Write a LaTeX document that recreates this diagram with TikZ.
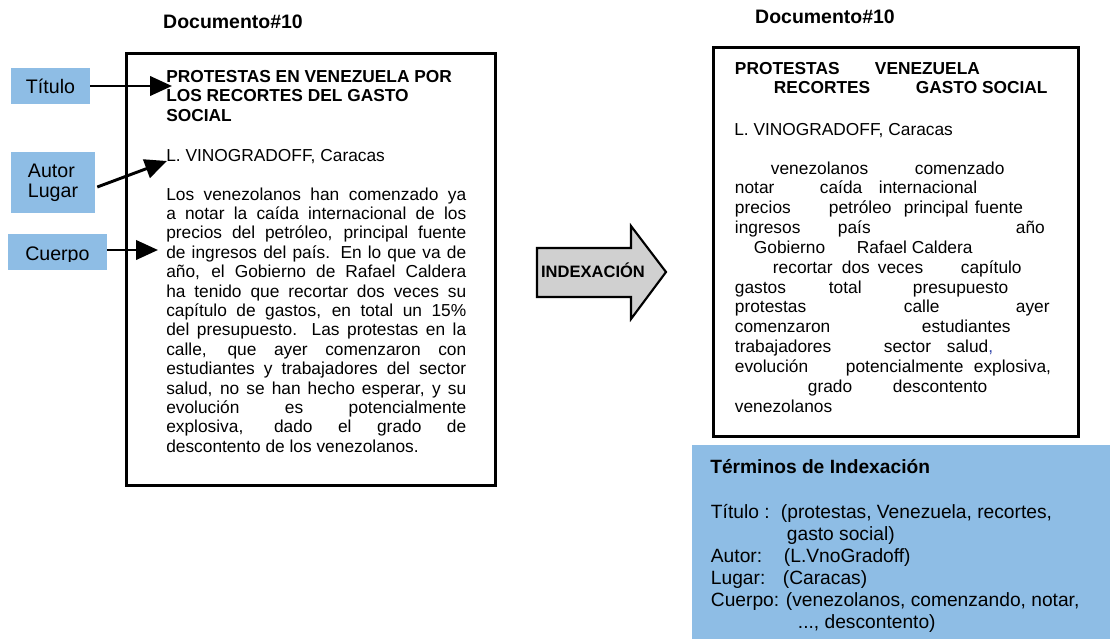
\documentclass[tikz,border=0pt]{standalone}
\usepackage{fontspec}
\setmainfont{Liberation Sans}
\usetikzlibrary{arrows.meta,calc}
\definecolor{lblue}{RGB}{142,189,229}
\definecolor{agray}{RGB}{208,208,208}
\definecolor{cblue}{RGB}{50,70,170}
\newlength\pxu \setlength\pxu{0.75pt}
\newcommand\W[2]{\rlap{\hspace*{#1\pxu}#2}}
\newcommand\JL[1]{\hbox to 225pt{\spaceskip=.278em plus 1fil minus .1em\relax #1}}
\begin{document}
\begin{tikzpicture}[x=0.75pt,y=-0.75pt,
  lbl/.style={fill=lblue, inner sep=0, font=\fontsize{14.7}{15}\selectfont},
  conn/.style={line width=2.2pt, -{Triangle[length=16.5pt,width=14.5pt]}},
  doc/.style={draw, line width=1.9pt, inner sep=0, anchor=north west},
  txt/.style={inner sep=0, anchor=base west, font=\fontsize{13}{14.55}\selectfont},
  ttl/.style={inner sep=0, anchor=base west, font=\bfseries\fontsize{13}{14.8}\selectfont},
  hdr/.style={inner sep=0, anchor=base, font=\bfseries\fontsize{14.6}{16}\selectfont},
]
\useasboundingbox (0,0) rectangle (1110,639);

% headers
\node[hdr] (dl) at (233,28) {Documento\#10};
\node[hdr] (dr) at (825,23) {Documento\#10};

% document frames
\node[doc, minimum width=276.75pt, minimum height=324pt] (ld) at (125,52) {};
\node[doc, minimum width=273.75pt, minimum height=291.75pt] (rd) at (712,46) {};

% left document text
\node[ttl] (lt1) at (166,82) {\vtop{\hbox{PROTESTAS EN VENEZUELA POR}\hbox{LOS RECORTES DEL GASTO}\hbox{SOCIAL}}};
\node[txt] (la1) at (166,161) {L. VINOGRADOFF, Caracas};
\node[txt] (lb) at (166,200) {\vtop{%
\JL{Los venezolanos han comenzado ya}
\JL{a notar la caída internacional de los}
\JL{precios del petróleo, principal fuente}
\JL{de ingresos del país. En lo que va de}
\JL{año, el Gobierno de Rafael Caldera}
\JL{ha tenido que recortar dos veces su}
\JL{capítulo de gastos, en total un 15\%}
\JL{del presupuesto. Las protestas en la}
\JL{calle, que ayer comenzaron con}
\JL{estudiantes y trabajadores del sector}
\JL{salud, no se han hecho esperar, y su}
\JL{evolución es potencialmente}
\JL{explosiva, dado el grado de}
\hbox{descontento de los venezolanos.}}};

% right document text
\node[ttl] (rt) at (734,74) {\vtop{\hbox{\W{0}{PROTESTAS}\W{140}{VENEZUELA}}\hbox{\W{39}{RECORTES}\W{181}{GASTO SOCIAL}}}};
\node[txt] (ra) at (734,135) {L. VINOGRADOFF, Caracas};
\node[txt, font=\fontsize{13}{14.875}\selectfont] (rb) at (734,174) {\vtop{%
\hbox{\W{36}{venezolanos}\W{180}{comenzado}}
\hbox{\W{0}{notar}\W{85}{caída}\W{144}{internacional}}
\hbox{\W{0}{precios}\W{94}{petróleo}\W{169}{principal}\W{240}{fuente}}
\hbox{\W{0}{ingresos}\W{103}{país}\W{281}{año}}
\hbox{\W{19}{Gobierno}\W{122}{Rafael Caldera}}
\hbox{\W{38}{recortar}\W{107}{dos}\W{143}{veces}\W{226}{capítulo}}
\hbox{\W{0}{gastos}\W{94}{total}\W{178}{presupuesto}}
\hbox{\W{0}{protestas}\W{169}{calle}\W{281}{ayer}}
\hbox{\W{0}{comenzaron}\W{187}{estudiantes}}
\hbox{\W{0}{trabajadores}\W{149}{sector}\W{212}{salud\textcolor{cblue}{,}}}
\hbox{\W{0}{evolución}\W{111}{potencialmente}\W{239}{explosiva,}}
\hbox{\W{73}{grado}\W{158}{descontento}}
\hbox{\W{0}{venezolanos}}}};

% indexing terms box
\node[fill=lblue, inner sep=0, anchor=north west, minimum width=313.5pt, minimum height=145.5pt] (tb) at (692,445) {};
\node[inner sep=0, anchor=base west, font=\bfseries\fontsize{14.4}{16}\selectfont] (tbh) at (710,473) {Términos de Indexación};
\node[inner sep=0, anchor=base west, font=\fontsize{14.4}{16.5}\selectfont] (tbb) at (710,518) {\vtop{%
\hbox{\W{0}{Título :}\W{70}{(protestas, Venezuela, recortes,}}
\hbox{\W{76}{gasto social)}}
\hbox{\W{0}{Autor:}\W{73}{(L.VnoGradoff)}}
\hbox{\W{0}{Lugar:}\W{72}{(Caracas)}}
\hbox{\W{0}{Cuerpo:}\W{75}{(venezolanos, comenzando, notar,}}
\hbox{\W{87}{..., descontento)}}}};

% indexing arrow
\draw[line width=1.6pt, fill=agray, line join=miter] (537,248) -- (631,248) -- (631,226) -- (666,272) -- (631,319) -- (631,297) -- (537,297) -- cycle;
\node[inner sep=0, anchor=base, font=\bfseries\fontsize{12.4}{14}\selectfont] (idx) at (593,277) {INDEXACIÓN};

% left labels
\node[lbl, minimum width=59.25pt, minimum height=27pt] (lt) at (50.5,86) {Título};
\node[lbl, minimum width=63pt, minimum height=45.75pt, align=left] (la) at (53,182.5) {Autor\\Lugar};
\node[lbl, minimum width=74.25pt, minimum height=27pt] (lc) at (57.5,252) {};
\begin{scope}
\clip (0,230) rectangle (120,261.5);
\node[inner sep=0, anchor=base west, font=\fontsize{14.7}{15}\selectfont] (lct) at (25,260) {Cuerpo};
\end{scope}

% connectors
\coordinate (tt) at (172,86);
\coordinate (at) at (167,161);
\coordinate (ct) at (158,250);
\draw[conn] (lt.east) -- (tt);
\draw[conn] ($(la.east)+(2,4.5)$) -- (at);
\draw[conn] ($(lc.east)+(0,-2)$) -- (ct);
\end{tikzpicture}
\end{document}
